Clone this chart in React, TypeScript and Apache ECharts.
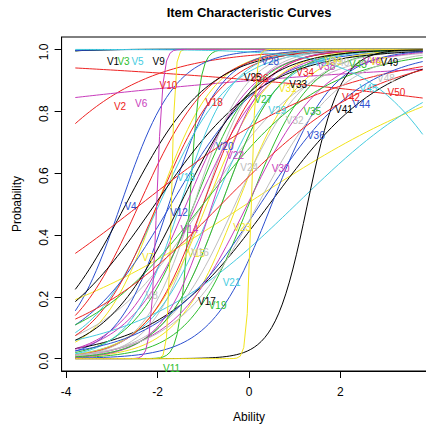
import React, { useEffect, useRef } from "react";
import * as echarts from "echarts";

// Item names
const itemNames = [
  "V1", "V2", "V3", "V4", "V5", "V6", "V7", "V8", "V9", "V10",
  "V11", "V12", "V13", "V14", "V15", "V16", "V17", "V18", "V19", "V20",
  "V21", "V22", "V23", "V24", "V25", "V26", "V27", "V28", "V29", "V30",
  "V31", "V32", "V33", "V34", "V35", "V36", "V37", "V38", "V39", "V40",
  "V41", "V42", "V43", "V44", "V45", "V46", "V47", "V48", "V49", "V50",
];

// 2PL item parameters
const discrimination = [
  1.8, 0.72, 2.0, 1.7, 1.8, 0.13, 1.6, 0.9, 2.2, -0.141,
  9.0, 1.8, 1.3, 1.4, 0.385, 1.8, 0.8, 1.3, 1.5, 1.0,
  0.57, 1.3, 1.5, 1.6, 1.12, 1.4, 1.5, 1.5, 1.4, 1.2,
  1.5, 1.3, 0.85, 1.6, 0.75, 1.5, 1.8, 1.8, 25, 1.8,
  2.8, 0.46, 1.6, 0.9, -1.0, 15, 20, 1.1, 1.2, 0.6,
];
const difficulty = [
  -7.0, -5.4, -6.5, -2.8, -7.0, -16.8, -2.0, -1.0, -6.2, 15.7,
  -1.3, -1.75, -1.96, -1.37, -0.05, -1.0, 0.45, -2.4, 0.0, -1.7,
  1.04, -1.14, -0.25, -0.6, -2.69, -2.0, -1.2, -7.5, -0.77, -0.03,
  -0.92, -0.3, -2.05, -1.0, -1.0, 0.5, -1.5, -0.8, -1.7, -1.2,
  1.28, -2.36, -0.6, 0.25, 4.77, -2.02, 0.05, 0.2, -1.5, -0.6,
];

const palette = ["#000000", "#EE2222", "#2DBE2D", "#2B4FD0", "#45CCE0", "#C83CBC", "#F2E41C", "#BEBEBE"];
const xTicks = [-4, -2, 0, 2, 4];
const xTickLabels = [-4, -2, 0, 2];
const yTicks = [0, 0.2, 0.4, 0.6, 0.8, 1.0];
const abilityRange = [-3.8, 3.8];
const abilityPoints = 100;
const labelIndexRange = [10, 90];

const FONT = "'Liberation Sans', Arial, Helvetica, sans-serif";

function buildOption() {
  const z: number[] = [];
  for (let k = 0; k < abilityPoints; k++) {
    z.push(abilityRange[0] + (k * (abilityRange[1] - abilityRange[0])) / (abilityPoints - 1));
  }
  const icc = (i: number, t: number) => 1 / (1 + Math.exp(-discrimination[i] * (t - difficulty[i])));

  const lineSeries: any[] = itemNames.map((name, i) => ({
    type: "line",
    name,
    showSymbol: false,
    symbol: "none",
    silent: true,
    data: z.map((t) => [t, icc(i, t)]),
    lineStyle: { width: 1, color: palette[i % palette.length] },
    itemStyle: { color: palette[i % palette.length] },
    z: 2,
  }));

  const n = itemNames.length;
  const labelData = itemNames.map((name, i) => {
    const pos = Math.round(labelIndexRange[0] + (i * (labelIndexRange[1] - labelIndexRange[0])) / (n - 1));
    const t = z[pos - 1];
    return [t, icc(i, t), i];
  });

  const labelSeries = {
    type: "custom",
    silent: true,
    clip: false,
    data: labelData,
    renderItem: (params: any, api: any) => {
      const i = api.value(2);
      const pt = api.coord([api.value(0), api.value(1)]);
      return {
        type: "text",
        x: pt[0],
        y: pt[1] + 12,
        style: {
          text: itemNames[i],
          fill: palette[i % palette.length],
          font: `10px ${FONT}`,
          textAlign: "left",
          textVerticalAlign: "middle",
        },
      };
    },
    z: 5,
  };

  return {
    animation: false,
    backgroundColor: "#ffffff",
    grid: {
      left: 61.6,
      right: 3.6,
      top: 37,
      bottom: 54,
      show: true,
      borderColor: "#000",
      borderWidth: 1,
      backgroundColor: "transparent",
    },
    xAxis: {
      type: "value",
      min: -4.1,
      max: 4.1,
      axisLine: { show: true, onZero: false, lineStyle: { color: "#000", width: 1 } },
      axisTick: { show: true, length: 7, customValues: xTicks, lineStyle: { color: "#000" } },
      axisLabel: {
        customValues: xTickLabels,
        margin: 15,
        fontSize: 12,
        color: "#000",
        fontFamily: FONT,
        formatter: (v: number) => String(v),
      },
      splitLine: { show: false },
    },
    yAxis: {
      type: "value",
      min: -0.04,
      max: 1.04,
      axisLine: { show: true, onZero: false, lineStyle: { color: "#000", width: 1 } },
      axisTick: { show: true, length: 7, customValues: yTicks, lineStyle: { color: "#000" } },
      axisLabel: {
        customValues: yTicks,
        rotate: 90,
        margin: 12,
        padding: [0, 5, 0, 0],
        fontSize: 12,
        color: "#000",
        fontFamily: FONT,
        formatter: (v: number) => v.toFixed(1),
      },
      splitLine: { show: false },
    },
    graphic: [
      {
        type: "text",
        x: 249,
        y: 12,
        style: {
          text: "Item Characteristic Curves",
          font: `bold 13px ${FONT}`,
          fill: "#000",
          textAlign: "center",
          textVerticalAlign: "middle",
        },
      },
      {
        type: "text",
        x: 249,
        y: 417,
        style: {
          text: "Ability",
          font: `12px ${FONT}`,
          fill: "#000",
          textAlign: "center",
          textVerticalAlign: "middle",
        },
      },
      {
        type: "text",
        x: 17,
        y: 204,
        rotation: Math.PI / 2,
        style: {
          text: "Probability",
          font: `12px ${FONT}`,
          fill: "#000",
          textAlign: "center",
          textVerticalAlign: "middle",
        },
      },
    ],
    series: [...lineSeries, labelSeries],
  };
}

export default function App() {
  const ref = useRef<HTMLDivElement>(null);
  useEffect(() => {
    if (!ref.current) return;
    const chart = echarts.init(ref.current, null, { renderer: "svg" });
    chart.setOption(buildOption() as any);
    return () => chart.dispose();
  }, []);
  return (
    <div
      style={{ position: "fixed", left: 0, top: 0, width: 426, height: 425, overflow: "hidden", background: "#fff" }}
    >
      <div ref={ref} style={{ width: 440, height: 425 }} />
    </div>
  );
}
